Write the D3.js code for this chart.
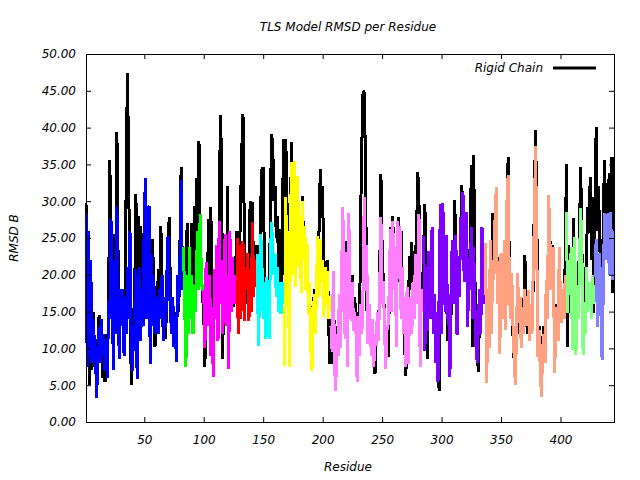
<!DOCTYPE html>
<html>
<head>
<meta charset="utf-8">
<script src="https://cdn.jsdelivr.net/npm/d3@7"></script>
<style>
  body { margin: 0; background: #fff; }
  text { font-family: "DejaVu Sans", sans-serif; font-style: italic; font-size: 12px; fill: #000; }
</style>
</head>
<body>
<div id="chart"></div>
<script>
// rigid chain RMSD, residues 1..445
const rigidRmsd = [
  29.7, 9, 24, 5, 20, 7, 15, 10, 8, 6,
  11, 14.5, 9, 12, 6, 10, 5.4, 12, 8, 15,
  35.6, 25, 22, 10, 25.5, 15, 39.4, 22, 10, 15,
  15, 16, 12, 15, 38.2, 47.4, 30, 24, 5, 9,
  14, 18, 31, 10, 28, 16, 26.6, 15, 17, 28,
  31, 16, 25, 27, 10, 22, 24.9, 18, 10.2, 15,
  17, 20.8, 14, 26.6, 16, 12, 15, 11.3, 19, 24,
  27.9, 17.4, 14, 16, 12.4, 15, 11, 17.1, 15, 24, 34.6, 20,
  22, 18, 10, 27, 14, 22, 16, 27, 15, 29.3, 17, 33.2, 24, 38.2, 26, 20, 17,
  15, 7.5, 20, 16, 27.6, 18, 29.2, 14, 8, 19, 15, 22, 13, 26, 41.7, 36, 8.6, 23.4, 24, 15, 32, 10, 23, 16, 22, 15.6, 18, 22,
  26, 14, 22, 29.6, 37, 41.8, 28, 16, 22, 18, 15, 30, 22, 29.9, 18, 24, 22,
  24, 12, 20, 30, 34.4, 34.6, 22, 12.2, 15.6, 18, 14, 28, 39.1, 37.8, 30, 32, 25, 28, 20, 26.2, 18, 22, 38.4,
  20, 38.4, 30, 24, 12, 30, 38, 24, 32, 26.5, 27, 30, 24, 26, 22, 30.7, 24, 26, 20, 22,
  16, 18, 12, 9, 14, 18, 15, 20, 24, 26, 34.4, 28, 32, 18, 21.9, 18, 22, 13.7, 7.9,
  14, 7.9, 18, 10.6, 8, 13, 10, 17, 12, 20, 24, 19, 24.6, 21, 12, 24, 18, 15, 20, 14,
  17, 13, 8, 15, 12, 28.3, 38, 45, 44.7, 35.5, 16.4, 12, 15, 13, 10, 12, 8, 6.5, 12, 14,
  12, 20, 33.7, 24, 19, 14, 9, 11, 8.9, 16, 26.5, 18, 28, 20, 22, 12, 25, 27.9, 22, 26,
  18, 14, 10, 6.2, 16, 14, 22.5, 18, 24.4, 16, 20, 22, 26, 34, 30, 12, 20, 18,
  24, 29.6, 16, 8.6, 22, 18, 16, 24, 14, 15, 10, 13, 7, 4.2, 25, 14, 24, 22, 18.3, 20,
  11, 17, 8, 15, 22, 18, 30.2, 24, 14, 18, 20, 24, 32.2, 28, 20, 24, 28.5, 16, 20, 22,
  34.9, 10.2, 36.3, 20, 12, 9, 6.8, 16, 14, 25, 22, 18,
  22, 8, 16, 12, 22, 14, 28.4, 22, 26, 30, 18, 19.3, 11.1, 20, 15, 18, 22, 14, 30, 36,
  20, 15.6, 18, 12, 8.4, 7, 14, 18, 12, 15, 11, 16, 14, 22.7, 18, 12, 16, 14.8, 13, 15,
  18, 30, 39.7, 30, 10, 13, 9, 5, 11, 13, 10, 18, 16, 28, 25.7, 20, 24, 22, 9, 14,
  16, 12.1, 22, 17, 15, 18, 16, 22,
  35.1, 10.2, 24, 16, 22, 12, 27.7, 20, 12, 18, 16, 26, 34.7, 24, 12, 21, 14, 24, 29.2, 26, 33.3, 22, 30.6, 14.8,
  28, 40.1, 26, 32, 24, 20, 15, 28, 35.6, 26, 32.5, 30, 33.8, 24, 36, 17.5, 36
];

// TLS model RMSD, residues 1..445
const tlsRmsd = [
  28.5, 7.5, 26, 9, 22, 8, 14, 11, 9, 3.2,
  10, 13, 8, 14, 9, 12, 7, 11, 6, 16.5,
  14, 27.6, 20, 7, 22, 12, 29.3, 16, 8.6, 18,
  13, 18, 9, 17, 12, 21, 14, 26, 10, 7,
  12, 15, 20.8, 5.8, 15, 21, 11, 18, 13, 28,
  33.2, 14, 28, 29.4, 7.9, 22.8, 13, 20, 12, 17,
  15, 12, 18, 14, 20, 11, 17, 13, 20, 25.3,
  19, 15, 12, 17, 10.2, 14, 8.2, 20, 16, 22, 32.9, 18,
  23.8, 16, 7.5, 20, 12, 23.8, 14, 20, 12, 18.4, 15, 22, 26, 18, 28.3, 20, 17.8,
  18, 10, 21.7, 13, 17, 20, 9, 15, 6.1, 20.8, 14, 24, 11, 27.3, 16, 22, 12, 19, 25.5, 13, 20, 7.2, 26, 15, 22.4, 17, 16, 20,
  25, 12, 24, 14, 22, 24.6, 13.7, 21, 18, 23, 13.7, 20, 15, 27.2, 17, 22, 19,
  22.8, 10.3, 18, 25.5, 21, 14, 19, 11.3, 19.7, 14, 11.3, 22, 27.2, 24, 20, 22.8, 17, 21, 15, 19, 14.7, 19, 16,
  7.6, 30.6, 18, 26, 7.5, 28, 35.3, 20, 35.4, 18.3, 30, 33.4, 21, 28, 17.5, 30, 22, 26.6, 18, 24.2,
  14.6, 19, 10, 7, 13.7, 17.4, 12, 20, 25.2, 17, 24.9, 19, 22, 14.3, 21, 16, 20.5, 14, 17,
  13, 9.5, 20.5, 7.7, 4.2, 12, 9, 17.4, 10, 21, 29.2, 15, 11.3, 23.1, 7.5, 28.4, 16, 13.7, 19, 12.4,
  15, 12.4, 5.4, 14.4, 9, 16, 12, 18.3, 30.6, 17.8, 24, 10.6, 16, 12.4, 9, 14, 7.5, 12, 10.4, 15,
  11, 18, 27.9, 16, 19.1, 13, 7.2, 12.4, 13.2, 18, 26.2, 15, 27.3, 18, 23.9, 10.2, 27.3, 20, 26.6, 14,
  21, 12, 17, 7.5, 18.3, 7.9, 14, 17, 12, 19, 14, 22.8, 16, 20, 28.3, 7.5, 18, 15,
  25.3, 9.6, 21, 12.4, 23.2, 20.5, 14, 26.5, 12, 17.4, 8, 15, 5.4, 18.3, 29.6, 12, 29.7, 24.4, 15, 25.4,
  14, 15.6, 6.1, 18, 24.7, 16, 22, 25.4, 11.8, 20, 17, 27.9, 22, 31.2, 19, 25, 28.5, 12.9, 22, 18,
  26.5, 14, 23.8, 16, 10, 8, 14, 18, 12, 26.5, 20, 16,
  24.3, 5.3, 18, 10, 24.7, 12, 22, 19.3, 28, 31.9, 16, 20, 9.3, 23, 14, 20, 24.7, 12.5, 30, 33.6,
  18, 14, 20.3, 13.4, 9, 5, 12, 20.3, 13.4, 17, 10, 15.6, 12, 18, 13, 14.3, 17.9, 11, 16, 12,
  20, 27, 37.5, 24.7, 8.9, 12.5, 7, 3.4, 10, 12, 8, 19.3, 14, 30.8, 25.7, 18, 22, 23.8, 6.6, 12,
  15.6, 11, 23.8, 16, 13.4, 18, 14, 20,
  28.5, 14.8, 22, 18, 23.8, 9.8, 20, 25.1, 9.1, 18, 14, 22, 29.1, 23, 9.1, 16, 12, 21, 15, 19, 18.6, 14, 20, 16,
  19.7, 24.8, 12.9, 20, 23, 15, 8.4, 18, 28.4, 22, 26, 28.4, 20, 28.5, 24, 19.3, 26
];

// TLS groups (first / last residue) and their colours
const groupStart = [1, 83, 100, 128, 145, 168, 207, 285, 337, 405, 429];
const groupEnd = [82, 99, 127, 144, 167, 206, 284, 336, 404, 428, 445];
const groupColors = ["#0000ff", "#00ff00", "#ff00ff", "#ff0000", "#00ffff", "#ffff00",
  "#ff80ff", "#8000ff", "#ffa080", "#80ff80", "#8080ff"];

const xTicks = [50, 100, 150, 200, 250, 300, 350, 400];
const yTicks = [0, 5, 10, 15, 20, 25, 30, 35, 40, 45, 50];

const width = 640;
const height = 480;
const plotLeft = 86, plotRight = 614, plotTop = 54, plotBottom = 422;

const svg = d3
  .select("#chart")
  .append("svg")
  .attr("width", width)
  .attr("height", height);

const xScale = d3.scaleLinear().domain([1, 445]).range([plotLeft, plotRight]);
const yScale = d3.scaleLinear().domain([0, 50]).range([plotBottom, plotTop]);

const line = d3
  .line()
  .x((d) => xScale(d.r))
  .y((d) => yScale(d.v));

// rigid chain underneath
const rigidPts = rigidRmsd.map((v, i) => ({ r: i + 1, v: v }));
svg
  .append("path")
  .attr("d", line(rigidPts))
  .attr("fill", "none")
  .attr("stroke", "#000")
  .attr("stroke-width", 3)
  .attr("stroke-linejoin", "bevel")
  .attr("shape-rendering", "crispEdges");

// TLS groups on top
groupStart.forEach((s, g) => {
  const pts = [];
  for (let r = s; r <= groupEnd[g]; r++) pts.push({ r: r, v: tlsRmsd[r - 1] });
  svg
    .append("path")
    .attr("d", line(pts))
    .attr("fill", "none")
    .attr("stroke", groupColors[g])
    .attr("stroke-width", 3)
    .attr("stroke-linejoin", "bevel")
    .attr("shape-rendering", "crispEdges");
});

// axes, ticks pointing inward on all four sides
const xAxis = d3.axisBottom(xScale).tickValues(xTicks).tickSize(-5).tickPadding(13).tickSizeOuter(0);
const yAxis = d3.axisLeft(yScale).tickValues(yTicks).tickSize(-5).tickPadding(10).tickSizeOuter(0)
  .tickFormat(d3.format(".2f"));

svg.append("g").attr("transform", `translate(0, ${plotBottom})`).call(xAxis);
svg.append("g").attr("transform", `translate(${plotLeft}, 0)`).call(yAxis);
svg.append("g").attr("transform", `translate(0, ${plotTop})`)
  .call(d3.axisTop(xScale).tickValues(xTicks).tickSize(-5).tickSizeOuter(0).tickFormat(""));
svg.append("g").attr("transform", `translate(${plotRight}, 0)`)
  .call(d3.axisRight(yScale).tickValues(yTicks.slice(1, -1)).tickSize(-5).tickSizeOuter(0).tickFormat(""));

svg.selectAll(".domain").remove();
svg.selectAll(".tick line").attr("stroke", "#000");
svg.selectAll(".tick text").attr("font-family", null).attr("font-size", null);

svg
  .append("rect")
  .attr("x", plotLeft)
  .attr("y", plotTop)
  .attr("width", plotRight - plotLeft)
  .attr("height", plotBottom - plotTop)
  .attr("fill", "none")
  .attr("stroke", "#000")
  .attr("stroke-width", 1)
  .attr("shape-rendering", "crispEdges");

// titles
svg.append("text").attr("x", 348).attr("y", 27).attr("dy", "0.35em")
  .attr("text-anchor", "middle").text("TLS Model RMSD per Residue");
svg.append("text").attr("x", 348).attr("y", 467).attr("dy", "0.35em")
  .attr("text-anchor", "middle").text("Residue");
svg.append("text").attr("transform", "translate(14, 238) rotate(-90)").attr("dy", "0.35em")
  .attr("text-anchor", "middle").text("RMSD B");

// legend
const legend = svg.append("g").attr("transform", "translate(0, 68)");
legend.append("text").attr("x", 543).attr("dy", "0.35em").attr("text-anchor", "end").text("Rigid Chain");
legend.append("line").attr("x1", 553).attr("x2", 596).attr("stroke", "#000").attr("stroke-width", 3);
</script>
</body>
</html>
